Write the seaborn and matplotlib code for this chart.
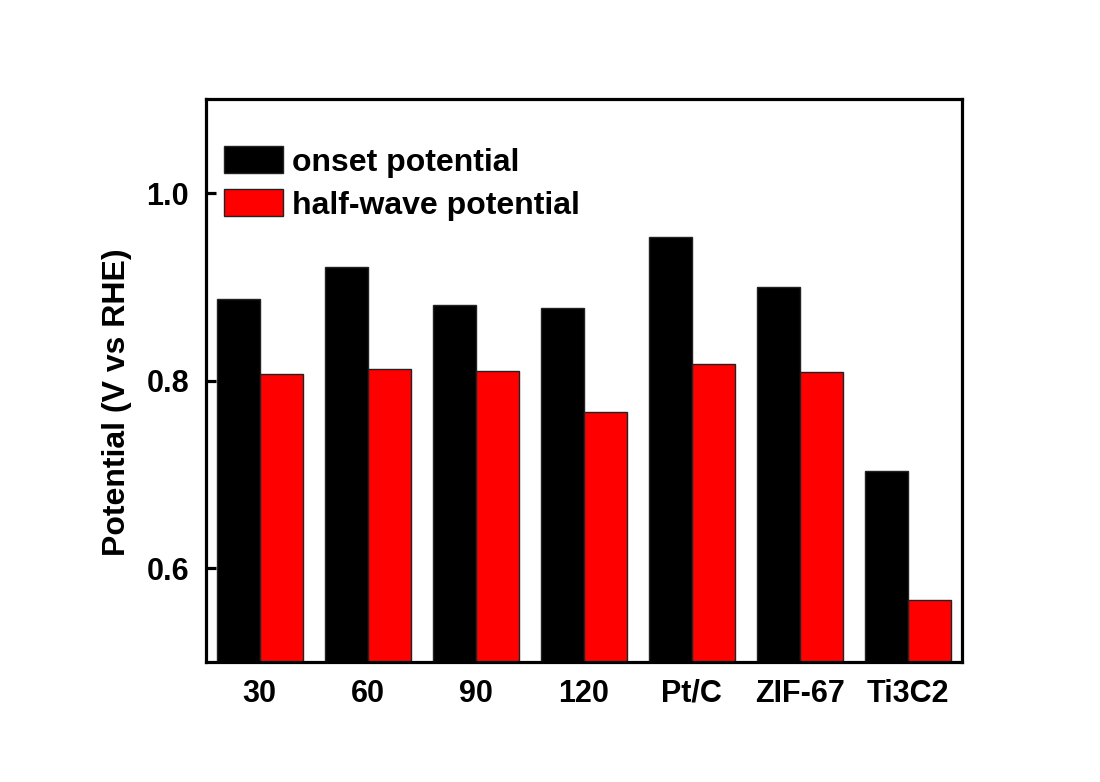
import matplotlib
matplotlib.use("Agg")
import matplotlib.pyplot as plt
import seaborn as sns
import pandas as pd

categories = ["30", "60", "90", "120", "Pt/C", "ZIF-67", "Ti3C2"]
onset = [0.887, 0.921, 0.881, 0.877, 0.953, 0.900, 0.704]
half_wave = [0.807, 0.812, 0.810, 0.767, 0.818, 0.809, 0.566]
series_names = ["onset potential", "half-wave potential"]
colors = ["#000000", "#ff0000"]
yticks = [0.6, 0.8, 1.0]

df = pd.DataFrame({
    "cat": categories * 2,
    "val": onset + half_wave,
    "series": [series_names[0]] * len(categories) + [series_names[1]] * len(categories),
})

sns.set_style("ticks")
plt.rcParams["font.family"] = ["Liberation Sans", "DejaVu Sans"]
plt.rcParams["font.weight"] = "bold"
plt.rcParams["text.color"] = "black"
plt.rcParams["axes.labelcolor"] = "black"
plt.rcParams["xtick.color"] = "black"
plt.rcParams["ytick.color"] = "black"
plt.rcParams["axes.axisbelow"] = False

fig = plt.figure(figsize=(11, 7.82), dpi=100)
ax = fig.add_axes([0.187, 0.1535, 0.6875, 0.7195])

sns.barplot(data=df, x="cat", y="val", hue="series", palette=colors, saturation=1,
            width=0.8, edgecolor="#222222", linewidth=1.0, ax=ax, errorbar=None)

ax.set_ylim(0.5, 1.1)
ax.set_xlim(-0.5, 6.5)
ax.set_yticks(yticks)
ax.set_yticklabels([f"{t:.1f}" for t in yticks])
ax.set_xlabel("")
ax.set_ylabel("Potential (V vs RHE)", fontsize=23, fontweight="bold", color="black")
ax.yaxis.set_label_coords(-0.097, 0.462)
for sp in ax.spines.values():
    sp.set_visible(True)
    sp.set_linewidth(2.3)
    sp.set_color("black")
ax.set_axisbelow(False)
ax.tick_params(axis="x", length=0, labelsize=22, pad=12, colors="black")
ax.tick_params(axis="y", which="major", direction="in", length=7.5, width=2.3,
               labelsize=22, pad=12, left=True, right=False, colors="black")
for lab in ax.get_xticklabels() + ax.get_yticklabels():
    lab.set_fontweight("bold")

leg = ax.legend(loc="upper left", bbox_to_anchor=(-0.006, 0.957), frameon=False,
                fontsize=23, handlelength=1.85, handleheight=0.95, handletextpad=0.3,
                labelspacing=0.35, borderaxespad=0.3)
for t in leg.get_texts():
    t.set_fontweight("bold")
    t.set_color("black")

fig.savefig("out.png", dpi=100, facecolor="white")
